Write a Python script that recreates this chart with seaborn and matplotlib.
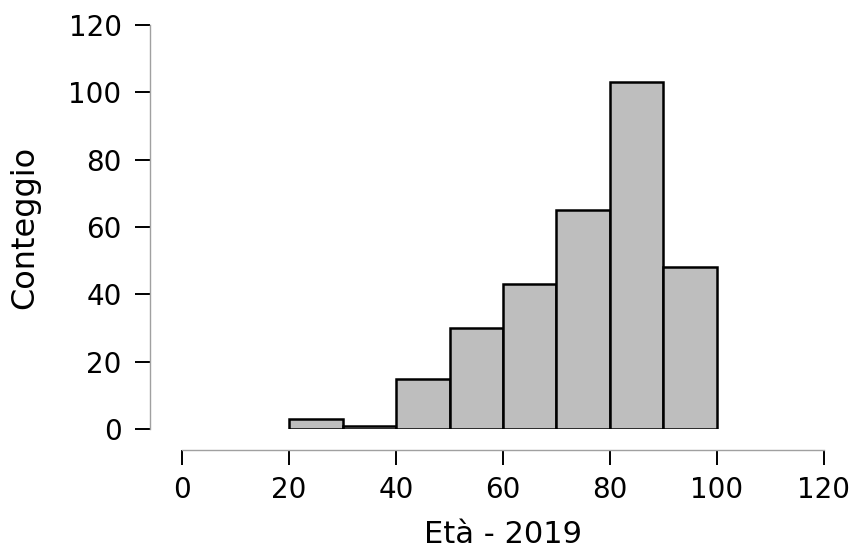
import matplotlib
matplotlib.use("Agg")
import matplotlib.pyplot as plt
import seaborn as sns
import pandas as pd

# istogramma dell'età (JASP-style)
bin_edges = [20, 30, 40, 50, 60, 70, 80, 90, 100]
conteggi = [3, 1, 15, 30, 43, 65, 103, 48]
x_ticks = [0, 20, 40, 60, 80, 100, 120]
y_ticks = [0, 20, 40, 60, 80, 100, 120]

centri = [(a + b) / 2 for a, b in zip(bin_edges[:-1], bin_edges[1:])]
df = pd.DataFrame({'eta': centri, 'n': conteggi})

sns.set_style('ticks')
plt.rcParams['font.family'] = ['DejaVu Sans']

fig = plt.figure(figsize=(8.55, 5.6), dpi=100)
ax = fig.add_axes([0.2129, 0.2339, 0.9637 - 0.2129, 0.9554 - 0.2339])

sns.histplot(data=df, x='eta', weights='n', bins=bin_edges, ax=ax,
             color='#bebebe', edgecolor='black', linewidth=1.8, alpha=1)

ax.set_xlim(0, 120)
ax.set_ylim(0, 120)
ax.set_xticks(x_ticks)
ax.set_yticks(y_ticks)

sns.despine(ax=ax)
ax.spines['left'].set_position(('outward', 23))
ax.spines['bottom'].set_position(('outward', 15))
for s in ['left', 'bottom']:
    ax.spines[s].set_color('#a0a0a0')
    ax.spines[s].set_linewidth(1.0)

ax.tick_params(axis='both', length=10.5, width=1.4, color='black',
               labelsize=20, labelcolor='black')
ax.tick_params(axis='y', pad=10)
ax.tick_params(axis='x', pad=8)
ax.set_xlabel('Età - 2019', fontsize=22, labelpad=12, color='black')
ax.set_ylabel('Conteggio', fontsize=23, labelpad=20, color='black')

fig.savefig('out.png', dpi=100)
